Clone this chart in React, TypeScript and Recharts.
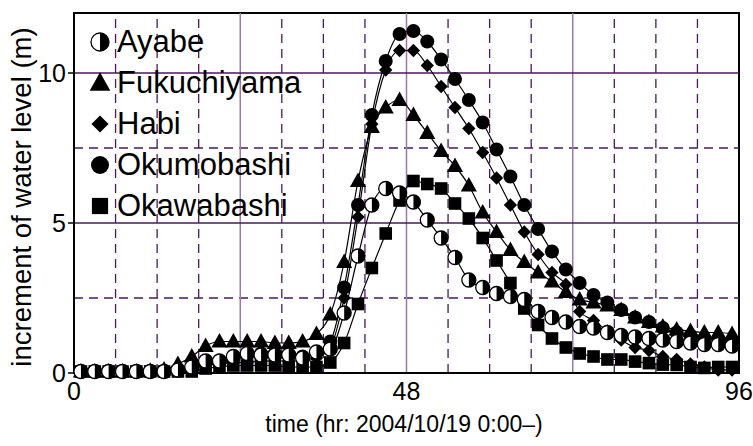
import React from 'react';
import {
  ComposedChart,
  Line,
  XAxis,
  YAxis,
  ReferenceLine,
  ReferenceArea,
} from 'recharts';

// hours since 2004/10/19 0:00 (observations every 2 hr)
const hours = [
  1, 3, 5, 7, 9, 11, 13, 15, 17, 19, 21, 23, 25, 27, 29, 31, 33, 35, 37, 39, 41, 43, 45, 47,
  49, 51, 53, 55, 57, 59, 61, 63, 65, 67, 69, 71, 73, 75, 77, 79, 81, 83, 85, 87, 89, 91, 93, 95,
];

const ayabe = [
  0.05, 0.05, 0.05, 0.05, 0.05, 0.05, 0.05, 0.1, 0.2, 0.4,
  0.4, 0.55, 0.65, 0.6, 0.6, 0.6, 0.5, 0.7, 0.8, 2.0,
  3.9, 5.6, 6.15, 6.0, 5.7, 5.1, 4.5, 3.85, 3.1, 2.85,
  2.65, 2.55, 2.45, 2.05, 1.85, 1.7, 1.55, 1.5, 1.35, 1.25,
  1.2, 1.15, 1.1, 1.05, 1.0, 0.95, 0.95, 0.9,
];

const fukuchiyama = [
  0.05, 0.05, 0.05, 0.05, 0.05, 0.08, 0.12, 0.3, 0.55, 0.9,
  1.05, 1.05, 1.05, 1.05, 1.0, 1.0, 1.05, 1.3, 1.95, 3.7,
  6.4, 8.2, 8.85, 9.1, 8.6, 8.0, 7.4, 6.9, 6.25, 5.35,
  4.7, 4.1, 3.7, 3.35, 3.05, 2.7, 2.45, 2.35, 2.25, 2.1,
  1.85, 1.7, 1.55, 1.45, 1.4, 1.35, 1.35, 1.3,
];

const habi = [
  0.03, 0.03, 0.03, 0.03, 0.03, 0.03, 0.03, 0.08, 0.15, 0.25,
  0.3, 0.35, 0.35, 0.4, 0.4, 0.4, 0.4, 0.5, 0.85, 2.5,
  5.2, 8.3, 10.1, 10.75, 10.75, 10.25, 9.55, 8.85, 8.15, 7.35,
  6.5, 5.6, 4.7, 3.95, 3.35, 2.95, 2.05, 1.75, 1.4, 1.1,
  0.85, 0.75, 0.55, 0.45, 0.3, 0.2, 0.1, 0.1,
];

const okumobashi = [
  0.05, 0.05, 0.05, 0.05, 0.05, 0.05, 0.05, 0.1, 0.2, 0.35,
  0.4, 0.5, 0.6, 0.65, 0.65, 0.6, 0.55, 0.7, 1.05, 2.85,
  5.6, 8.6, 10.4, 11.3, 11.4, 11.05, 10.45, 9.8, 9.1, 8.35,
  7.45, 6.55, 5.6, 4.8, 4.05, 3.45, 3.0, 2.6, 2.35, 2.1,
  1.85, 1.7, 1.5, 1.35, 1.25, 1.15, 1.1, 1.05,
];

const okawabashi = [
  0.05, 0.05, 0.05, 0.05, 0.05, 0.05, 0.05, 0.05, 0.05, 0.15,
  0.2, 0.25, 0.25, 0.25, 0.25, 0.2, 0.2, 0.2, 0.35, 1.0,
  2.3, 3.5, 4.65, 5.75, 6.4, 6.3, 6.15, 5.65, 5.15, 4.5,
  3.75, 3.0, 2.15, 1.6, 1.15, 0.85, 0.65, 0.55, 0.45, 0.45,
  0.38, 0.33, 0.28, 0.27, 0.2, 0.17, 0.2, 0.2,
];

const xTicks = [0, 6, 12, 18, 24, 30, 36, 42, 48, 54, 60, 66, 72, 78, 84, 90, 96];
const xLabels = [0, 48, 96];
const yTicks = [0, 5, 10];
const solidX = [24, 48, 72];
const dashedX = [6, 12, 18, 30, 36, 42, 54, 60, 66, 78, 84, 90];
const solidY = [5, 10];
const dashedY = [2.5, 7.5];

type Kind = 'half' | 'triangle' | 'diamond' | 'circle' | 'square';

const SERIES: { key: string; name: string; kind: Kind; values: number[] }[] = [
  { key: 'okawabashi', name: 'Okawabashi', kind: 'square', values: okawabashi },
  { key: 'okumobashi', name: 'Okumobashi', kind: 'circle', values: okumobashi },
  { key: 'habi', name: 'Habi', kind: 'diamond', values: habi },
  { key: 'fukuchiyama', name: 'Fukuchiyama', kind: 'triangle', values: fukuchiyama },
  { key: 'ayabe', name: 'Ayabe', kind: 'half', values: ayabe },
];

const LEGEND_ORDER = ['ayabe', 'fukuchiyama', 'habi', 'okumobashi', 'okawabashi'];

const data = hours.map((h, i) => {
  const row: Record<string, number> = { h };
  SERIES.forEach((s) => (row[s.key] = s.values[i]));
  return row;
});

const FONT = '"Liberation Sans", Arial, sans-serif';
const GRID_DARK = '#4a1a5c';
const GRID_LIGHT = '#9a7aaa';

function Marker({ kind, cx, cy, r }: { kind: Kind; cx: number; cy: number; r: number }) {
  switch (kind) {
    case 'half':
      return (
        <g>
          <circle cx={cx} cy={cy} r={r} fill="#fff" stroke="#000" strokeWidth={1.3} />
          <path d={`M${cx},${cy - r} A${r},${r} 0 0 1 ${cx},${cy + r} Z`} fill="#000" />
        </g>
      );
    case 'triangle': {
      const s = r * 1.15;
      return (
        <polygon
          points={`${cx},${cy - s * 1.05} ${cx + s},${cy + s * 0.75} ${cx - s},${cy + s * 0.75}`}
          fill="#000"
        />
      );
    }
    case 'diamond': {
      const s = r * 0.95;
      return <polygon points={`${cx},${cy - s} ${cx + s},${cy} ${cx},${cy + s} ${cx - s},${cy}`} fill="#000" />;
    }
    case 'circle':
      return <circle cx={cx} cy={cy} r={r} fill="#000" />;
    case 'square': {
      const s = r * 0.9;
      return <rect x={cx - s} y={cy - s} width={s * 2} height={s * 2} fill="#000" />;
    }
  }
  return null;
}

function dotFor(kind: Kind, key: string) {
  return (props: any) => {
    const { cx, cy, index } = props;
    if (cx == null || cy == null) return <g key={`${key}-${index}`} />;
    return (
      <g key={`${key}-${index}`}>
        <Marker kind={kind} cx={cx} cy={cy} r={7} />
      </g>
    );
  };
}

export default function App() {
  return (
    <div style={{ position: 'absolute', left: 0, top: 0, width: 753, height: 446, background: '#fff' }}>
      <ComposedChart
        width={753}
        height={446}
        data={data}
        margin={{ top: 13, right: 14, bottom: 0, left: 0 }}
        style={{ fontFamily: FONT }}
      >
        <XAxis
          dataKey="h"
          type="number"
          domain={[0, 96]}
          ticks={xTicks}
          interval={0}
          height={73}
          tickFormatter={(v: number) => (xLabels.includes(v) ? String(v) : '')}
          tickLine={false}
          tickSize={0}
          tickMargin={9}
          axisLine={{ stroke: '#000', strokeWidth: 2 }}
          tick={{ fill: '#000', fontSize: 25, fontFamily: FONT }}
          label={{
            content: () => (
              <text x={404} y={432} textAnchor="middle" fontSize={23} fontFamily={FONT} fill="#000">
                time (hr: 2004/10/19 0:00–)
              </text>
            ),
          }}
        />
        <YAxis
          type="number"
          domain={[0, 12]}
          ticks={yTicks}
          width={74}
          tickSize={6}
          tickMargin={2}
          tickLine={{ stroke: '#000', strokeWidth: 1.5 }}
          axisLine={{ stroke: '#000', strokeWidth: 2 }}
          tick={{ fill: '#000', fontSize: 25, fontFamily: FONT }}
          label={{
            content: () => (
              <text
                x={21}
                y={197}
                transform="rotate(-90 21 197)"
                textAnchor="middle"
                dominantBaseline="central"
                fontSize={27.5}
                fontFamily={FONT}
                fill="#000"
              >
                increment of water level (m)
              </text>
            ),
          }}
        />
        {dashedX.map((x) => (
          <ReferenceLine key={`dx${x}`} x={x} stroke={GRID_DARK} strokeWidth={1.3} strokeDasharray="9 6" />
        ))}
        {dashedY.map((y) => (
          <ReferenceLine key={`dy${y}`} y={y} stroke={GRID_DARK} strokeWidth={1.3} strokeDasharray="9 6" />
        ))}
        {solidX.map((x) => (
          <ReferenceLine key={`sx${x}`} x={x} stroke={GRID_LIGHT} strokeWidth={1.5} />
        ))}
        {solidY.map((y) => (
          <ReferenceLine key={`sy${y}`} y={y} stroke={GRID_DARK} strokeWidth={1.3} />
        ))}
        <ReferenceArea x1={0} x2={96} y1={0} y2={12} fill="none" stroke="#000" strokeWidth={2} />
        {SERIES.map((s) => (
          <Line
            key={s.key}
            dataKey={s.key}
            name={s.name}
            type="monotone"
            stroke="#000"
            strokeWidth={1.2}
            dot={dotFor(s.kind, s.key)}
            activeDot={false}
            isAnimationActive={false}
          />
        ))}
      </ComposedChart>
      <div style={{ position: 'absolute', left: 88, top: 21, fontFamily: FONT, color: '#000' }}>
        {LEGEND_ORDER.map((k) => {
          const s = SERIES.find((x) => x.key === k)!;
          return (
            <div key={k} style={{ display: 'flex', alignItems: 'center', height: 41 }}>
              <svg width={24} height={26} style={{ marginRight: 5 }}>
                <Marker kind={s.kind} cx={12} cy={13} r={9} />
              </svg>
              <span style={{ fontSize: 31, lineHeight: '41px' }}>{s.name}</span>
            </div>
          );
        })}
      </div>
    </div>
  );
}
